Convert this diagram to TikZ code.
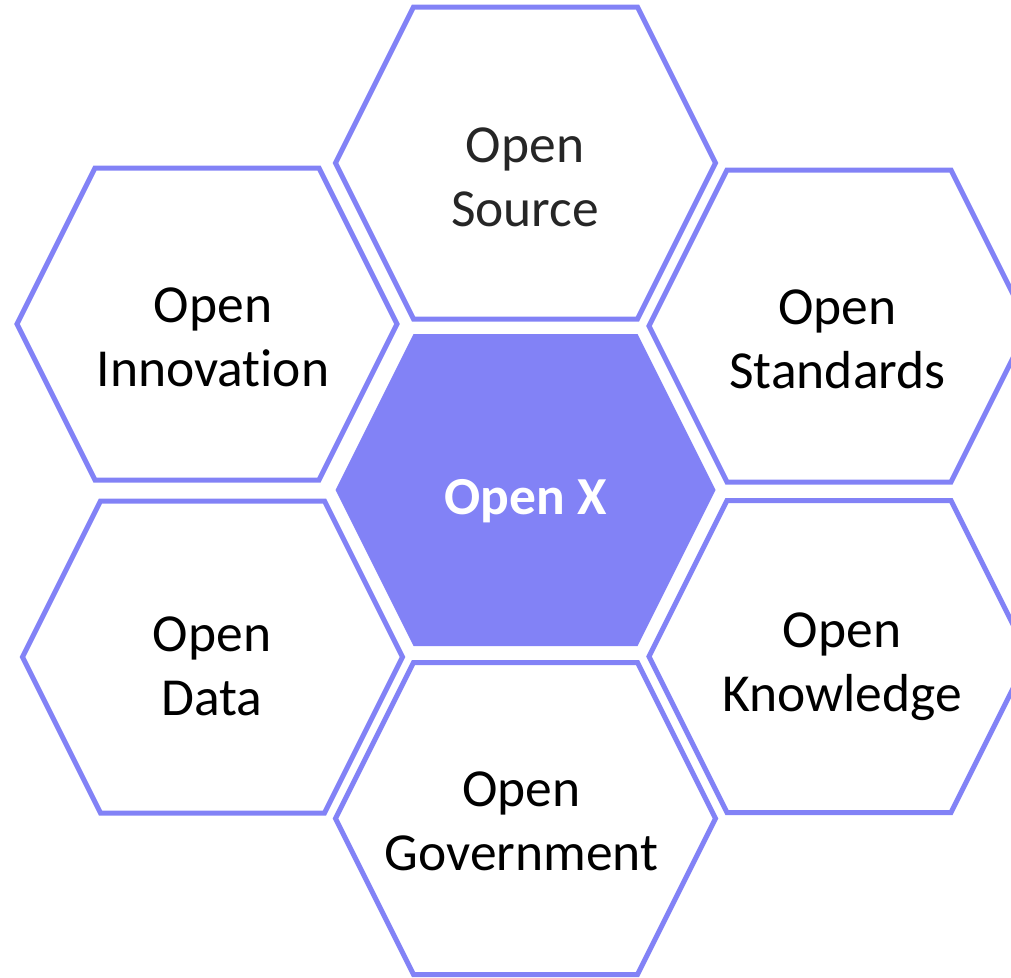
\documentclass[tikz,border=0pt]{standalone}
\usepackage{fontspec}
\setmainfont{Carlito}[Ligatures=NoCommon]
\definecolor{hexblue}{RGB}{130,130,246}
\definecolor{sourcegray}{RGB}{38,38,38}
\tikzset{
    hexcell/.pic={
        \path[pic actions] (-190,0) -- (-112,-156) -- (112,-156) -- (190,0)
            -- (112,156) -- (-112,156) -- cycle;
    }
}

\begin{document}
\begin{tikzpicture}[x=1pt,y=-1pt,
        hexline/.style={draw=hexblue,line width=5pt,line join=miter},
        hextext/.style={align=center,inner sep=0pt,font=\fontsize{53.5}{64}\selectfont},
    ]
        \clip (0,0) rectangle (1011,977);
        % Outer ring
        \pic[hexline] at (525.5,163) {hexcell};
        \pic[hexline] at (207,324) {hexcell};
        \pic[hexline] at (839,326) {hexcell};
        \pic[hexline] at (212.5,657) {hexcell};
        \pic[hexline] at (839,656.5) {hexcell};
        \pic[hexline] at (525.5,818.5) {hexcell};
        % Centre
        \pic[fill=hexblue] at (525.5,490) {hexcell};
        \node[hextext,text=white,font=\bfseries\fontsize{53.5}{64}\selectfont] (openx) at (525.5,502) {\strut Open X};
        % Labels
        \node[hextext,text=sourcegray] (source) at (525,182) {\strut Open\\Source\strut};
        \node[hextext] (innovation) at (213,342) {\strut Open\\Innovation\strut};
        \node[hextext] (standards) at (837.5,344) {\strut Open\\Standards\strut};
        \node[hextext] (data) at (212,671) {\strut Open\\Data\strut};
        \node[hextext] (knowledge) at (842,667) {\strut Open\\Knowledge\strut};
        \node[hextext] (government) at (521.5,826) {\strut Open\\Government\strut};
    \end{tikzpicture}
\end{document}
